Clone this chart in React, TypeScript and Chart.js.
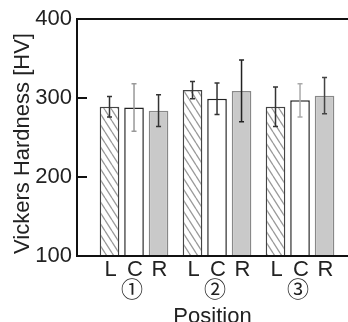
import React, { useEffect, useRef } from "react";
import { Chart, registerables } from "chart.js";

Chart.register(...registerables);

const groups = ["①", "②", "③"];
const positions = ["L", "C", "R"];
const valuesL = [289, 310, 289];
const errorsL = [13, 11, 25];
const valuesC = [288, 299, 297];
const errorsC = [30, 20, 21];
const valuesR = [284, 309, 303];
const errorsR = [20, 39, 23];
const yTicks = [100, 200, 300, 400];
const yTitle = "Vickers Hardness [HV]";
const xTitle = "Position";

const errColors = [
  ["#333", "#333", "#333"],
  ["#999", "#333", "#aaa"],
  ["#333", "#222", "#444"],
];

const FONT = "'Liberation Sans', Arial, sans-serif";

function makeHatch(): CanvasPattern | string {
  const c = document.createElement("canvas");
  const w = 7, h = 11;
  c.width = w;
  c.height = h;
  const ctx = c.getContext("2d");
  if (!ctx) return "#fff";
  ctx.fillStyle = "#ffffff";
  ctx.fillRect(0, 0, w, h);
  ctx.strokeStyle = "#9a9a9a";
  ctx.lineWidth = 1.3;
  ctx.beginPath();
  for (const dx of [-w, 0, w]) {
    ctx.moveTo(dx, 0);
    ctx.lineTo(dx + w, h);
  }
  ctx.stroke();
  const p = ctx.createPattern(c, "repeat");
  return p || "#fff";
}

export default function App() {
  const ref = useRef<HTMLCanvasElement | null>(null);

  useEffect(() => {
    const canvas = ref.current;
    if (!canvas) return;
    const hatch = makeHatch();
    const vals = [valuesL, valuesC, valuesR];
    const errs = [errorsL, errorsC, errorsR];

    const decor = {
      id: "decor",
      afterDatasetsDraw(chart: any) {
        const ctx = chart.ctx;
        const ys = chart.scales.y;
        const area = chart.chartArea;
        // error bars
        vals.forEach((arr, i) => {
          const meta = chart.getDatasetMeta(i);
          arr.forEach((v, j) => {
            const el = meta.data[j];
            if (!el) return;
            const x = el.x;
            const yTop = ys.getPixelForValue(v + errs[i][j]);
            const yBot = ys.getPixelForValue(v - errs[i][j]);
            ctx.save();
            ctx.strokeStyle = errColors[i][j];
            ctx.lineWidth = 1.5;
            ctx.beginPath();
            ctx.moveTo(x, yTop);
            ctx.lineTo(x, yBot);
            ctx.moveTo(x - 2.5, yTop);
            ctx.lineTo(x + 2.5, yTop);
            ctx.moveTo(x - 2.5, yBot);
            ctx.lineTo(x + 2.5, yBot);
            ctx.stroke();
            ctx.restore();
          });
        });
        // axes frame
        ctx.save();
        ctx.strokeStyle = "#111";
        ctx.lineWidth = 2;
        ctx.beginPath();
        ctx.moveTo(area.left, area.top);
        ctx.lineTo(chart.width, area.top);
        ctx.moveTo(area.left, area.top - 1);
        ctx.lineTo(area.left, area.bottom + 1);
        ctx.moveTo(area.left, area.bottom);
        ctx.lineTo(chart.width, area.bottom);
        yTicks.forEach((t) => {
          const y = ys.getPixelForValue(t);
          ctx.moveTo(area.left, y);
          ctx.lineTo(area.left + 10, y);
        });
        ctx.stroke();
        ctx.restore();
        // x labels
        ctx.save();
        ctx.fillStyle = "#222";
        ctx.textAlign = "center";
        ctx.textBaseline = "alphabetic";
        ctx.font = `22px ${FONT}`;
        vals.forEach((arr, i) => {
          const meta = chart.getDatasetMeta(i);
          arr.forEach((_v, j) => {
            const el = meta.data[j];
            if (!el) return;
            ctx.fillText(positions[i], el.x + 1, area.bottom + 20);
          });
        });
        ctx.font = `22px 'Noto Sans CJK JP', 'DejaVu Sans', sans-serif`;
        ctx.textBaseline = "middle";
        groups.forEach((g, j) => {
          const el = chart.getDatasetMeta(1).data[j];
          if (!el) return;
          ctx.fillText(g, el.x - 2, area.bottom + 33);
        });
        ctx.font = `22px ${FONT}`;
        ctx.textBaseline = "alphabetic";
        ctx.fillText(xTitle, (area.left + chart.width) / 2, area.bottom + 67);
        // y title
        ctx.translate(29, (area.top + area.bottom) / 2 + 6);
        ctx.rotate(-Math.PI / 2);
        ctx.fillText(yTitle, 0, 0);
        ctx.restore();
      },
    };

    const chart = new Chart(canvas, {
      type: "bar",
      data: {
        datasets: [
          {
            label: positions[0],
            data: valuesL.map((v, j) => ({ x: j, y: v })),
            backgroundColor: hatch as any,
            borderColor: "#444",
            borderWidth: 1.5,
          },
          {
            label: positions[1],
            data: valuesC.map((v, j) => ({ x: j, y: v })),
            backgroundColor: "#ffffff",
            borderColor: "#222",
            borderWidth: 1.5,
          },
          {
            label: positions[2],
            data: valuesR.map((v, j) => ({ x: j, y: v })),
            backgroundColor: "#c9c9c9",
            borderColor: "#888",
            borderWidth: 1.5,
          },
        ],
      },
      options: {
        animation: false,
        responsive: false,
        maintainAspectRatio: false,
        layout: { padding: { top: 19, left: 0, right: 0, bottom: 0 } },
        categoryPercentage: 0.886,
        barPercentage: 0.8,
        plugins: {
          legend: { display: false },
          tooltip: { enabled: false },
        },
        scales: {
          x: {
            type: "linear",
            offset: false,
            min: -0.687,
            max: 2.578,
            grid: { display: false, offset: false },
            border: { display: false },
            ticks: { display: false },
            afterBuildTicks(scale: any) {
              scale.ticks = groups.map((_g, j) => ({ value: j }));
            },
            afterFit(scale: any) {
              scale.height = 66;
            },
          },
          y: {
            min: 100,
            max: 400,
            grid: { display: false, drawTicks: false },
            border: { display: false },
            ticks: {
              stepSize: 100,
              padding: 5,
              color: "#222",
              font: { family: FONT, size: 22 },
            },
            afterFit(scale: any) {
              scale.width = 77;
            },
          },
        },
      } as any,
      plugins: [decor],
    });

    return () => chart.destroy();
  }, []);

  return (
    <div
      style={{
        position: "fixed",
        left: 0,
        top: 0,
        width: 348,
        height: 322,
        overflow: "hidden",
        background: "#fff",
      }}
    >
      <canvas ref={ref} width={348} height={322} style={{ width: 348, height: 322, display: "block" }} />
    </div>
  );
}
